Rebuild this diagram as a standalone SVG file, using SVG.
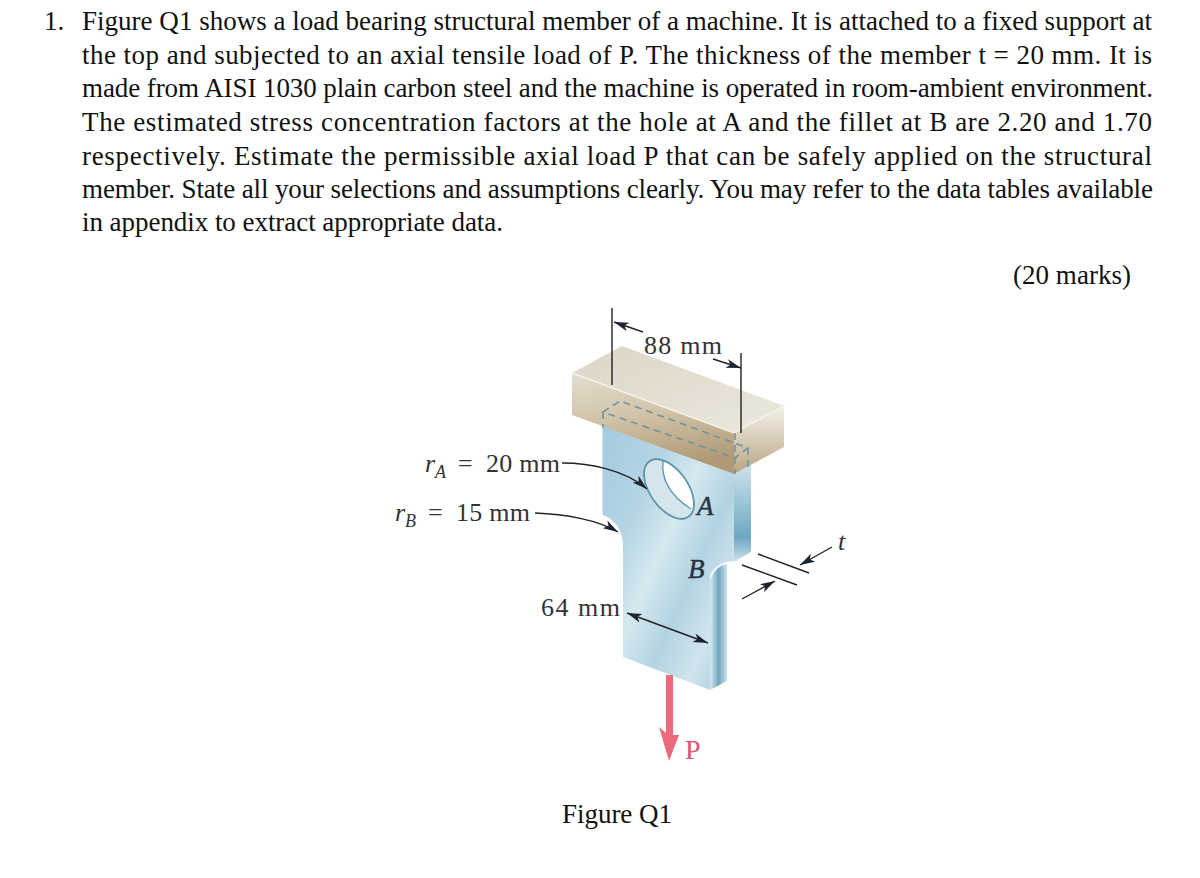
<svg xmlns="http://www.w3.org/2000/svg" width="1200" height="878" viewBox="0 0 1200 878">
<style>
.t{font-family:"Liberation Serif","Times New Roman",serif;font-size:27px;fill:#111}
.f{font-family:"Liberation Serif","Times New Roman",serif;font-size:26px;fill:#333}
.i{font-style:italic}
.s{font-size:18px}
.ld{fill:none;stroke:#222;stroke-width:1.4}
.a{marker-end:url(#ah)}
.d{fill:none;stroke:#6f93a0;stroke-width:1.6;stroke-dasharray:7 5}
.m{font-size:27px;fill:#26323d;stroke:#26323d;stroke-width:.4}
</style>
<defs>
<marker id="ah" markerUnits="userSpaceOnUse" markerWidth="16" markerHeight="10" refX="15" refY="5" orient="auto"><path d="M0,0.5L15,5L0,9.5L4,5Z" fill="#1c2430"/></marker>
<marker id="as" markerUnits="userSpaceOnUse" markerWidth="16" markerHeight="10" refX="1" refY="5" orient="auto"><path d="M16,0.5L1,5L16,9.5L12,5Z" fill="#1c2430"/></marker>
<linearGradient id="bf" x1="0" y1="0" x2="0.25" y2="1"><stop offset="0" stop-color="#e4decf"/><stop offset="0.5" stop-color="#d0c2a7"/><stop offset="1" stop-color="#b09a76"/></linearGradient>
<linearGradient id="bt" x1="0" y1="0" x2="1" y2="1"><stop offset="0" stop-color="#dcd5c6"/><stop offset="1" stop-color="#ece8dd"/></linearGradient>
<linearGradient id="br" x1="0" y1="0" x2="0" y2="1"><stop offset="0" stop-color="#f4f1e9"/><stop offset="1" stop-color="#b8a583"/></linearGradient>
<linearGradient id="mf" x1="0" y1="0" x2="1" y2="0.9"><stop offset="0" stop-color="#a3cbdf"/><stop offset="0.3" stop-color="#b4d5e4"/><stop offset="0.48" stop-color="#d6e8ef"/><stop offset="0.66" stop-color="#b2d3e2"/><stop offset="0.84" stop-color="#d0e4ec"/><stop offset="1" stop-color="#a9cfe0"/></linearGradient>
<linearGradient id="ms" x1="0" y1="0" x2="1" y2="0"><stop offset="0" stop-color="#dbeaf0"/><stop offset="0.5" stop-color="#6ea6c0"/><stop offset="1" stop-color="#cfe3ec"/></linearGradient>
<linearGradient id="mt" x1="0" y1="0" x2="0" y2="1"><stop offset="0" stop-color="#cde2ec"/><stop offset="0.5" stop-color="#8dbcd1"/><stop offset="0.75" stop-color="#6ea6c0"/><stop offset="1" stop-color="#cfe3ec"/></linearGradient>
<clipPath id="hc"><ellipse cx="669" cy="489" rx="34" ry="19" transform="rotate(55 669 489)"/></clipPath>
</defs>
<g id="question">
<text class="t" x="44" y="30">1.</text>
<text class="t" x="82" y="30" textLength="1070">Figure Q1 shows a load bearing structural member of a machine. It is attached to a fixed support at</text>
<text class="t" x="82" y="64" textLength="1070">the top and subjected to an axial tensile load of P. The thickness of the member t = 20 mm. It is</text>
<text class="t" x="82" y="97" textLength="1071">made from AISI 1030 plain carbon steel and the machine is operated in room-ambient environment.</text>
<text class="t" x="82" y="131" textLength="1070">The estimated stress concentration factors at the hole at A and the fillet at B are 2.20 and 1.70</text>
<text class="t" x="82" y="165" textLength="1070">respectively. Estimate the permissible axial load P that can be safely applied on the structural</text>
<text class="t" x="82" y="198" textLength="1071">member. State all your selections and assumptions clearly. You may refer to the data tables available</text>
<text class="t" x="82" y="231" textLength="421">in appendix to extract appropriate data.</text>
<text class="t" x="1013" y="284" textLength="118">(20 marks)</text>
<text class="t" x="562" y="823" textLength="110">Figure Q1</text>
</g>
<g id="member">
<path d="M603,426L734,474V562Q716,562 710,578V690L623,657V543Q621,522 603,515Z" fill="url(#mf)"/>
<path d="M734,474L751,465V552L734,562Z" fill="url(#mt)"/>
<path d="M710,578Q712,566 727,563V681L710,690Z" fill="url(#ms)"/>
<path d="M710,578Q716,562 735,562" fill="none" stroke="#f4f9fb" stroke-width="2"/>
<path d="M603,426V515" stroke="#a8cde0" stroke-width="1" fill="none"/>
</g>
<g id="hole">
<g clip-path="url(#hc)">
<ellipse cx="669" cy="489" rx="34" ry="19" transform="rotate(55 669 489)" fill="#d4e5ec"/>
<path d="M663,460Q660,489 692,510L710,500L690,450Z" fill="#fff"/>
</g>
<path d="M663,461Q660,489 691,509" fill="none" stroke="#5f96aa" stroke-width="1.3"/>
<ellipse cx="669" cy="489" rx="34" ry="19" transform="rotate(55 669 489)" fill="none" stroke="#5f96aa" stroke-width="1.8"/>
</g>
<g id="support">
<path d="M572,373L622,346L784,406L734,433Z" fill="url(#bt)"/>
<path d="M572,373L734,433V474L572,415Z" fill="url(#bf)"/>
<path d="M734,433L784,406V447L734,474Z" fill="url(#br)"/>
<path d="M572,373L734,433L784,406" fill="none" stroke="#f5f2ea" stroke-width="1.5"/>
<path class="d" d="M603,412L620,401L748,448L735,458ZM603,412V428M748,448V468M735,433V474"/>
</g>
<g id="connectors">
<path class="ld" d="M612,308V385M741,353V433"/>
<path class="ld a" d="M643,332L614,322"/>
<path class="ld a" d="M713,359L741,368"/>
<path class="ld a" d="M562,463C590,463 625,470 647,489"/>
<path class="ld a" d="M535,513C565,514 598,520 618,532"/>
<path class="ld" d="M627,613L708,643" marker-start="url(#as)" marker-end="url(#ah)"/>
<path class="ld" d="M758,554L809,573M742,565L797,585"/>
<path class="ld a" d="M832,547L800,565"/>
<path class="ld a" d="M742,599L775,581"/>
<path id="load-p" d="M666,675H673V735L679,735L669,761L659,727L666,733Z" fill="#ec6a7d"/>
</g>
<g id="labels">
<text class="f" x="644" y="354" textLength="78">88 mm</text>
<text class="f i" x="425" y="472">r</text><text class="f i s" x="435" y="478">A</text>
<text class="f" x="458" y="472">=</text><text class="f" x="486" y="472" textLength="74">20 mm</text>
<text class="f i" x="395" y="521">r</text><text class="f i s" x="405" y="527">B</text>
<text class="f" x="428" y="521">=</text><text class="f" x="456" y="521" textLength="74">15 mm</text>
<text class="f" x="541" y="616" textLength="79">64 mm</text>
<text class="f i m" x="697" y="515">A</text>
<text class="f i m" x="688" y="578">B</text>
<text class="f" x="685" y="759" style="fill:#dd5470;font-size:28px">P</text>
<text class="f i" x="838" y="550">t</text>
</g>
</svg>
